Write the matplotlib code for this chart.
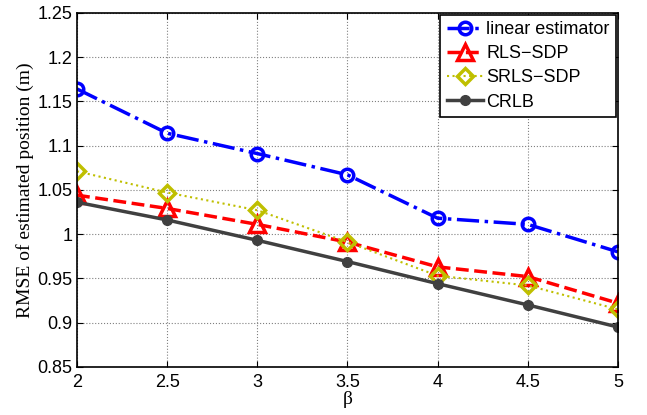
import matplotlib
matplotlib.use('Agg')
import matplotlib.pyplot as plt

beta = [2, 2.5, 3, 3.5, 4, 4.5, 5]
linear_est = [1.164, 1.114, 1.091, 1.067, 1.018, 1.011, 0.980]
rls_sdp = [1.044, 1.029, 1.011, 0.991, 0.963, 0.952, 0.922]
srls_sdp = [1.071, 1.047, 1.027, 0.991, 0.953, 0.942, 0.915]
crlb = [1.036, 1.016, 0.993, 0.969, 0.944, 0.920, 0.895]

plt.rcParams['font.family'] = ['Liberation Sans', 'DejaVu Sans']

fig = plt.figure(figsize=(6.47, 4.15), dpi=100)
ax = fig.add_axes([0.119, 0.116, 0.836, 0.853])

ax.plot(beta, linear_est, color='#0000ff', linestyle='-.', linewidth=2.5,
        marker='o', markersize=9, markerfacecolor='none', markeredgewidth=2.5,
        label='linear estimator')
ax.plot(beta, rls_sdp, color='#ff0000', linestyle='--', linewidth=2.5,
        marker='^', markersize=11, markerfacecolor='none', markeredgewidth=2.5,
        label='RLS\u2212SDP')
ax.plot(beta, srls_sdp, color='#bfbf00', linestyle=':', linewidth=1.5,
        marker='D', markersize=8, markerfacecolor='none', markeredgewidth=2.5,
        label='SRLS\u2212SDP')
ax.plot(beta, crlb, color='#404040', linestyle='-', linewidth=2.5,
        marker='o', markersize=7, label='CRLB')

ax.set_xlim(2, 5)
ax.set_ylim(0.85, 1.25)
ax.set_xticks([2, 2.5, 3, 3.5, 4, 4.5, 5])
ax.set_xticklabels(['2', '2.5', '3', '3.5', '4', '4.5', '5'])
ax.set_yticks([0.85, 0.9, 0.95, 1.0, 1.05, 1.1, 1.15, 1.2, 1.25])
ax.set_yticklabels(['0.85', '0.9', '0.95', '1', '1.05', '1.1', '1.15', '1.2', '1.25'])
ax.tick_params(direction='in', labelsize=13, length=4, top=True, right=True)
ax.tick_params(axis='x', pad=5)
ax.grid(True, linestyle=':', color='#808080', linewidth=0.8)
for s in ax.spines.values():
    s.set_linewidth(1.2)

ax.set_xlabel('\u03b2', family='Liberation Serif', fontsize=14, labelpad=0)
ax.set_ylabel('RMSE of estimated position (m)', family='Liberation Serif', fontsize=14, labelpad=2)

leg = ax.legend(loc='upper right', fontsize=13, fancybox=False, edgecolor='black',
                framealpha=1, borderaxespad=0.1, handlelength=2.0,
                labelspacing=0.4, borderpad=0.35, handletextpad=0.2)
leg.get_frame().set_linewidth(1.2)

fig.savefig('out.png', dpi=100)
